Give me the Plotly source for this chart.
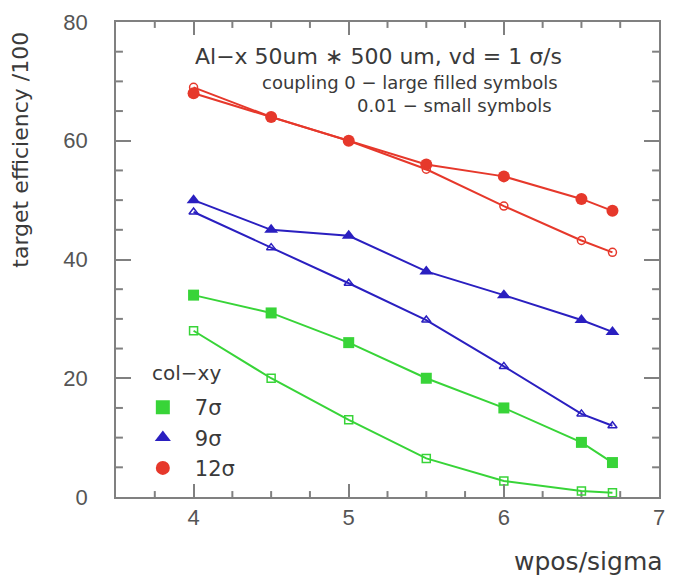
import numpy as np
import plotly.graph_objects as go

x = [4, 4.5, 5, 5.5, 6, 6.5, 6.7]

# coupling 0 (large filled symbols)
g7_c0 = [34, 31, 26, 20, 15, 9.2, 5.8]
b9_c0 = [50, 45, 44, 38, 34, 29.8, 27.8]
r12_c0 = [68, 64, 60, 56, 54, 50.2, 48.2]
# coupling 0.01 (small symbols)
g7_c1 = [28, 20, 13, 6.5, 2.7, 1.0, 0.7]
b9_c1 = [48, 42, 36, 29.8, 22, 14, 12]
r12_c1 = [69, 64, 60, 55.2, 49, 43.2, 41.2]

legend_labels = ["7σ", "9σ", "12σ"]

GREEN = "#38d438"
BLUE = "#2a1fc0"
RED = "#e6382b"
TXT = "#3a3a3a"
AX = "#808080"
FONT = "DejaVu Sans, sans-serif"
NUMFONT = "Liberation Sans, Arial, sans-serif"

W, H = 675, 576
L, R, T, B = 116, 665, 17, 497
PW, PH = R - L, B - T
XR, YR = [3.5, 7.0], [0.0, 80.0]

fig = go.Figure()

# minor inside tick marks on all four sides (axis decoration, computed from the ranges)
px_x = (XR[1] - XR[0]) / PW
px_y = (YR[1] - YR[0]) / PH
tx, ty = [], []
for v in np.arange(3.75, 7.0, 0.25):
    if abs(v - round(v)) > 1e-6:
        d = 6 * px_y
        tx += [float(v), float(v), None, float(v), float(v), None]
        ty += [YR[0], YR[0] + d, None, YR[1], YR[1] - d, None]
for v in np.arange(5, 80, 5):
    if v % 20 != 0:
        d = 7 * px_x
        tx += [XR[0], XR[0] + d, None, XR[1], XR[1] - d, None]
        ty += [float(v), float(v), None, float(v), float(v), None]
fig.add_trace(go.Scatter(x=tx, y=ty, mode="lines", showlegend=False, hoverinfo="skip",
                         line=dict(color=AX, width=2)))

series = [
    (g7_c0, g7_c1, GREEN, "square", 11),
    (b9_c0, b9_c1, BLUE, "triangle-up", 12),
    (r12_c0, r12_c1, RED, "circle", 12),
]
for big, small, col, sym, sz in series:
    fig.add_trace(go.Scatter(x=x, y=small, mode="lines+markers", showlegend=False,
                             line=dict(color=col, width=2),
                             marker=dict(symbol=sym + "-open", size=8, color=col,
                                         line=dict(color=col, width=1.5))))
    fig.add_trace(go.Scatter(x=x, y=big, mode="lines+markers", showlegend=False,
                             line=dict(color=col, width=2),
                             marker=dict(symbol=sym, size=sz, color=col,
                                         line=dict(width=0))))

for (big, small, col, sym, sz), lab in zip(series, legend_labels):
    fig.add_trace(go.Scatter(x=[None], y=[None], mode="markers", name=lab,
                             marker=dict(symbol=sym, size=14, color=col, line=dict(width=0))))

fig.update_layout(
    width=W, height=H,
    margin=dict(l=L, r=W - R, t=T, b=H - B),
    paper_bgcolor="white", plot_bgcolor="white",
    font=dict(family=FONT, color=TXT),
    legend=dict(x=(131 - L) / PW, y=(B - 437) / PH, xanchor="left", yanchor="middle",
                bgcolor="rgba(0,0,0,0)", font=dict(size=21, color=TXT, family=FONT),
                itemsizing="trace", itemwidth=54, tracegroupgap=0),
)
fig.update_xaxes(range=XR, tickmode="linear", tick0=4, dtick=1, ticks="inside",
                 ticklen=13, tickcolor=AX, tickwidth=2, showline=True, linecolor=AX,
                 linewidth=1.5, mirror="ticks", showgrid=False, zeroline=False,
                 tickfont=dict(size=22, color="#555", family=NUMFONT))
fig.update_yaxes(range=YR, tickmode="linear", tick0=0, dtick=20, ticks="inside",
                 ticklen=15, tickcolor=AX, tickwidth=2, showline=True, linecolor=AX,
                 linewidth=1.5, mirror="ticks", showgrid=False, zeroline=False,
                 tickfont=dict(size=22, color="#555", family=NUMFONT), ticklabelstandoff=22)

annos = [
    dict(text="Al−x 50um ∗ 500 um, vd = 1 σ/s", x=569, y=52, xanchor="right", size=22),
    dict(text="coupling 0 − large filled symbols", x=565, y=78, xanchor="right", size=18),
    dict(text="0.01 − small symbols", x=559, y=101, xanchor="right", size=18),
    dict(text="col−xy", x=150, y=372, xanchor="left", size=20),
]
for a in annos:
    fig.add_annotation(text=a["text"], xref="paper", yref="paper",
                       x=(a["x"] - L) / PW, y=(B - a["y"]) / PH,
                       xanchor=a["xanchor"], yanchor="middle", showarrow=False,
                       font=dict(size=a["size"], color=TXT, family=FONT))

fig.add_annotation(text="wpos/sigma", xref="paper", yref="paper",
                   x=1.0, y=(B - 562) / PH, xanchor="right", yanchor="middle",
                   xshift=6, showarrow=False, font=dict(size=25, color=TXT, family=FONT))
fig.add_annotation(text="target efficiency /100", xref="paper", yref="paper",
                   x=(20 - L) / PW, y=(B - 146) / PH, xanchor="center",
                   yanchor="middle", textangle=-90, showarrow=False,
                   font=dict(size=22, color=TXT, family=FONT))

fig.write_html("out.html")
